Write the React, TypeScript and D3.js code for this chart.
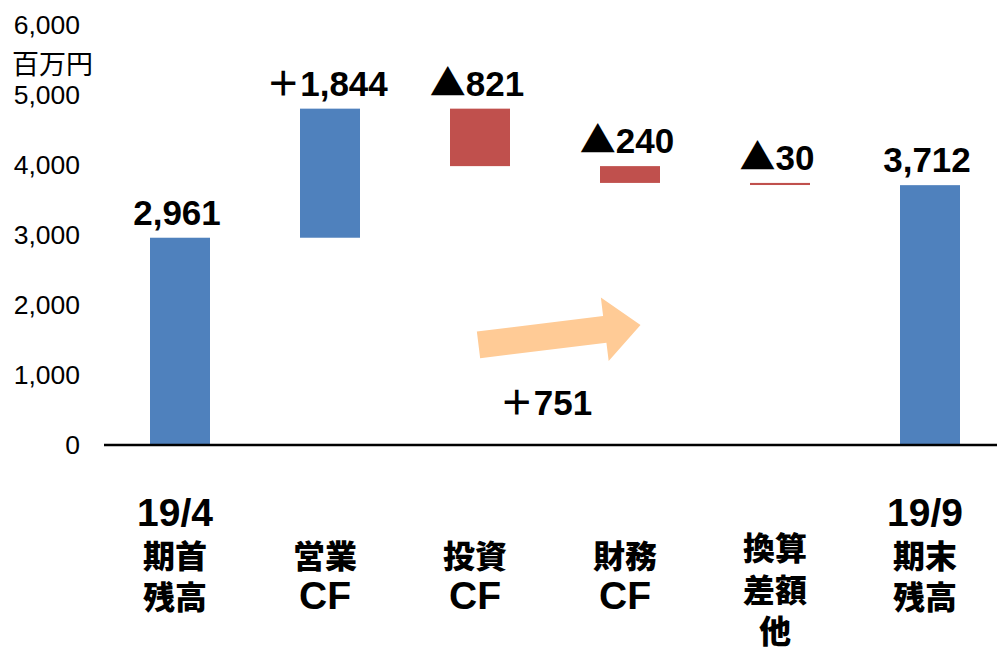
import React from 'react'
import * as d3 from 'd3'

// categories (label lines) and the row where each label starts
const categories = ['19/4期首残高', '営業CF', '投資CF', '財務CF', '換算差額他', '19/9期末残高']
const categoryLines = [
  ['19/4', '期首', '残高'],
  ['営業', 'CF'],
  ['投資', 'CF'],
  ['財務', 'CF'],
  ['換算', '差額', '他'],
  ['19/9', '期末', '残高'],
]
const categoryStartRow = [0, 1, 1, 1, 0.82, 0]

// waterfall values: start balance, changes, end balance
const startBalance = 2961
const changes = [1844, -821, -240, -30]
const endBalance = 3712
const valueLabels = ['2,961', '＋1,844', '▲821', '▲240', '▲30', '3,712']

const yTicks = [0, 1000, 2000, 3000, 4000, 5000, 6000]
const unitLabel = '百万円'

// net change arrow (category index position, value)
const netLabel = '＋751'
const arrowFrom = { idx: 1.99, value: 1430 }
const arrowTo = { idx: 3.07, value: 1715 }

const W = 997
const H = 650
const BLUE = '#4F81BD'
const RED = '#C0504D'
const ARROW = '#FFCB96'
const NUM_FONT = '"Liberation Sans", Arial, "Noto Sans CJK JP", sans-serif'
const JP_FONT = '"Noto Sans CJK JP", "Liberation Sans", sans-serif'

const isLatin = (s: string) => /^[\x00-\x7F]+$/.test(s)

// number label with a full-width sign drawn in the Japanese font
function ValueText({ x, y, label }: { x: number; y: number; label: string }) {
  const sign = label[0] === '▲' || label[0] === '＋' ? label[0] : ''
  const rest = sign ? label.slice(1) : label
  return (
    <text x={x} y={y} textAnchor="middle" fontFamily={NUM_FONT} fontWeight="bold" fontSize={35} fill="#000">
      {sign && <tspan fontFamily={JP_FONT} fontSize={sign === '▲' ? 36 : 34}>{sign}</tspan>}
      <tspan>{rest}</tspan>
    </text>
  )
}

export default function App() {
  const x = d3.scaleBand<string>()
    .domain(categories)
    .range([105, 1005])
    .paddingInner(0.6)
    .paddingOuter(0.3)
  const y = d3.scaleLinear().domain([0, 6000]).range([445, 25])
  const bw = x.bandwidth()
  const step = x.step()
  const cx = (i: number) => (x(categories[0]) as number) + bw / 2 + i * step

  // build bars from the data
  const bars: { lo: number; hi: number; color: string }[] = []
  bars.push({ lo: 0, hi: startBalance, color: BLUE })
  let run = startBalance
  changes.forEach(c => {
    const next = run + c
    bars.push({ lo: Math.min(run, next), hi: Math.max(run, next), color: c >= 0 ? BLUE : RED })
    run = next
  })
  bars.push({ lo: 0, hi: endBalance, color: BLUE })

  // arrow polygon
  const ax0 = cx(arrowFrom.idx), ay0 = y(arrowFrom.value)
  const ax1 = cx(arrowTo.idx), ay1 = y(arrowTo.value)
  const len = Math.hypot(ax1 - ax0, ay1 - ay0)
  const ux = (ax1 - ax0) / len, uy = (ay1 - ay0) / len
  const nx = -uy, ny = ux
  const shaft = 13.5, head = 32, headLen = 36
  const bx = ax1 - ux * headLen, by = ay1 - uy * headLen
  const pts: [number, number][] = [
    [ax0 + nx * shaft, ay0 + ny * shaft],
    [bx + nx * shaft, by + ny * shaft],
    [bx + nx * head, by + ny * head],
    [ax1, ay1],
    [bx - nx * head, by - ny * head],
    [bx - nx * shaft, by - ny * shaft],
    [ax0 - nx * shaft, ay0 - ny * shaft],
  ]
  const arrowPath = d3.line()(pts) + 'Z'

  const fmt = d3.format(',')

  return (
    <svg width={W} height={H} style={{ position: 'absolute', left: 0, top: 0, background: '#fff' }}>
      {/* y tick labels */}
      {yTicks.map(t => (
        <text key={t} x={80} y={y(t)} textAnchor="end" dominantBaseline="central"
          fontFamily={NUM_FONT} fontSize={26.5} fill="#000">{fmt(t)}</text>
      ))}
      <text x={12} y={62} dominantBaseline="central" fontFamily={JP_FONT} fontSize={27} fill="#000">{unitLabel}</text>

      {/* bars */}
      {bars.map((b, i) => (
        <rect key={i} x={x(categories[i])} y={y(b.hi)} width={bw}
          height={Math.max(1.5, y(b.lo) - y(b.hi))} fill={b.color} />
      ))}

      {/* baseline */}
      <line x1={104} x2={W} y1={y(0)} y2={y(0)} stroke="#000" strokeWidth={2.5} />

      {/* value labels */}
      {bars.map((b, i) => (
        <ValueText key={i} x={cx(i) - 3} y={y(b.hi) - 13} label={valueLabels[i]} />
      ))}

      {/* net change arrow */}
      <path d={arrowPath} fill={ARROW} />
      <ValueText x={546} y={415} label={netLabel} />

      {/* category labels */}
      {categoryLines.map((lines, i) => (
        <g key={i}>
          {lines.map((ln, j) => {
            const latin = isLatin(ln)
            return (
              <text key={j} x={cx(i) - 5} y={512 + (categoryStartRow[i] + j) * 41.5}
                textAnchor="middle" dominantBaseline="central"
                fontFamily={latin ? NUM_FONT : JP_FONT}
                fontWeight={latin ? 'bold' : '900'} fontSize={latin ? 39 : 32} fill="#000">{ln}</text>
            )
          })}
        </g>
      ))}
    </svg>
  )
}
